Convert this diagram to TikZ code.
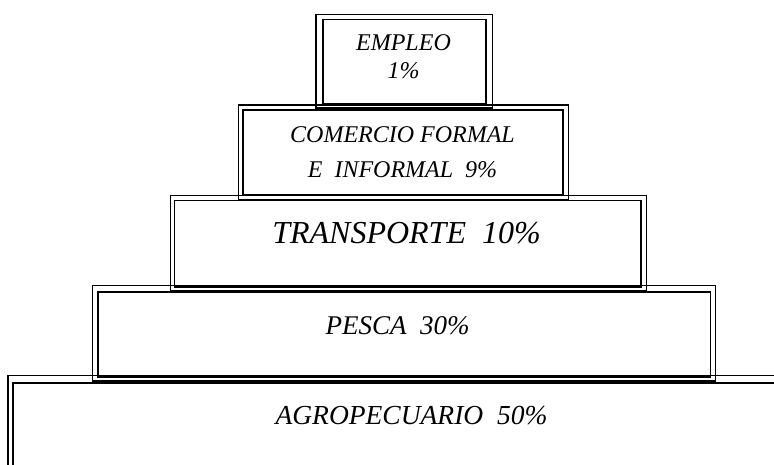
\documentclass[tikz,border=0pt]{standalone}
\usepackage{fontspec}
\setmainfont{Liberation Serif}
% capa: marco doble, exterior e interior
\newcommand\capa[8]{%
  \draw[line width=1.2pt](#1,#2) rectangle (#3,#4);
  \draw[line width=1.7pt](#5,#6) rectangle (#7,#8);}
\begin{document}
\begin{tikzpicture}[x=1pt,y=-1pt,
    rotulo/.style={font=\fontsize{27.5}{32}\selectfont\itshape,anchor=base},
    chico/.style={font=\fontsize{24}{28}\selectfont\itshape,align=center}]
\useasboundingbox (0,0) rectangle (774,464);
\clip (0,0) rectangle (774,464);
% capas, de arriba hacia abajo
\capa{316}{14.2}{492.2}{108}{323}{19.5}{485.8}{104.3}
\capa{238.6}{105}{568.3}{199.5}{243.3}{110.3}{562.8}{195}
\capa{170.5}{195.3}{646.7}{290.5}{174.5}{200.5}{640.7}{286.7}
\capa{92.8}{285.8}{715.5}{381}{98.3}{292}{710.5}{376.7}
\capa{8}{375.8}{800}{500}{12.8}{382.8}{800}{500}
% textos
\node[chico](empleo) at (403.5,56.5){EMPLEO\\1\%};
\node[chico,font=\fontsize{24}{35.3}\selectfont\itshape](comercio) at (402.5,151.9){COMERCIO FORMAL\\E\ \ INFORMAL\ \ 9\%};
\node[rotulo,font=\fontsize{32}{36}\selectfont\itshape](transporte) at (406.5,243.3){TRANSPORTE\ \ 10\%};
\node[rotulo,font=\fontsize{27}{32}\selectfont\itshape](pesca) at (397.5,334){PESCA\ \ 30\%};
\node[rotulo](agro) at (411.5,424){AGROPECUARIO\ \ 50\%};
\end{tikzpicture}
\end{document}
